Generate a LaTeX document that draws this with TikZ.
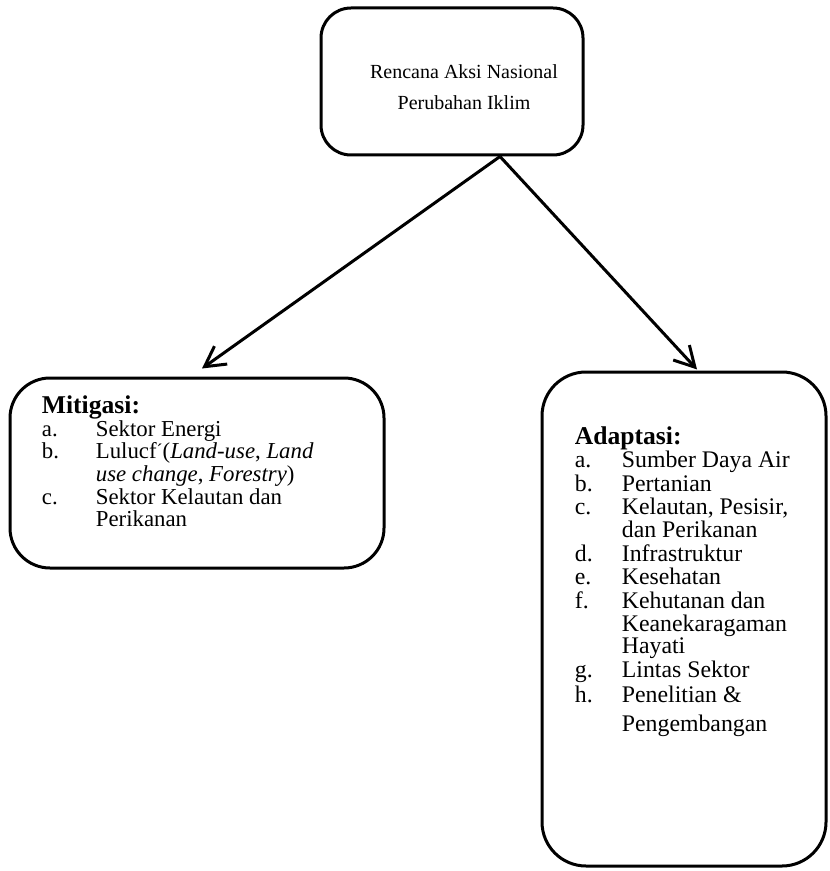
\documentclass[tikz,border=0pt]{standalone}
\usepackage{fontspec}
\setmainfont{Liberation Serif}
\usetikzlibrary{arrows.meta,positioning}

\tikzset{
  box/.style={draw,line width=1.5pt,inner sep=0pt},
  arr/.style={line width=1.5pt,-{Straight Barb[length=10pt,width=11pt]}},
  lst/.style={anchor=north west,inner sep=0pt,align=left}
}

\begin{document}
\begin{tikzpicture}[x=0.5pt,y=-0.5pt]
\useasboundingbox (0,0) rectangle (829,871);
% boxes
\node[box,rounded corners=15pt,minimum width=131pt,minimum height=73.5pt] (rain) at (452,81.5) {};
\node[align=center,inner sep=0pt,font=\fontsize{10}{15.5}\selectfont] (raintext)
  at ([xshift=6pt,yshift=-3pt]rain.center) {Rencana Aksi Nasional\\Perubahan Iklim};
\node[box,rounded corners=20pt,minimum width=187pt,minimum height=95pt] (mit) at (197,473) {};
\node[box,rounded corners=22pt,minimum width=142pt,minimum height=247pt] (adp) at (684,619) {};
% lists
\node[lst,font=\fontsize{11.4}{11.2}\selectfont] (mitlist) at ([xshift=16.5pt,yshift=-9.5pt]mit.north west)
  {\begin{tabular}{@{}p{27pt}@{}l@{}}
   \multicolumn{2}{@{}l}{\fontsize{12.8}{12}\selectfont\bfseries Mitigasi:}\\
   a. & Sektor Energi\\
   b. & Lulucf\raisebox{0.2ex}{\small´}(\textit{Land-use}, \textit{Land}\\
      & \textit{use change}, \textit{Forestry})\\
   c. & Sektor Kelautan dan\\
      & Perikanan
   \end{tabular}};
\node[lst,font=\fontsize{11.9}{11.25}\selectfont] (adplist) at ([xshift=17pt,yshift=-28pt]adp.north west)
  {\begin{tabular}{@{}p{23.5pt}@{}l@{}}
   \multicolumn{2}{@{}l}{\fontsize{12.8}{12}\selectfont\bfseries Adaptasi:}\\
   a. & Sumber Daya Air\\
   b. & Pertanian\\
   c. & Kelautan, Pesisir,\\
      & dan Perikanan\\
   d. & Infrastruktur\\
   e. & Kesehatan\\
   f. & Kehutanan dan\\
      & Keanekaragaman\\
      & Hayati\\
   g. & Lintas Sektor\\[1pt]
   h. & Penelitian \&\\[3pt]
      & Pengembangan
   \end{tabular}};
% arrows
\coordinate (fork) at ([xshift=24pt]rain.south);
\draw[arr] (fork) -- ([xshift=2.5pt,yshift=4pt]mit.north);
\draw[arr] (fork) -- ([xshift=6.5pt,yshift=0.5pt]adp.north);
\end{tikzpicture}
\end{document}
